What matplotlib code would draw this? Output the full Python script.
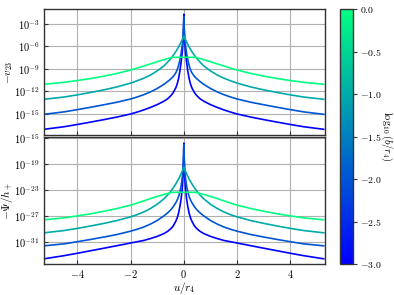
import numpy as np
import matplotlib.pyplot as plt
import matplotlib as mpl

plt.rcParams['mathtext.fontset'] = 'cm'
plt.rcParams['font.family'] = 'serif'
plt.rcParams['font.serif'] = ['DejaVu Serif']

# log10(b/r4) of each curve
log_b = [-3.0, -2.0, -1.0, 0.0]

# u/r4 sample points (u >= 0, curves are symmetric in u)
u_half = np.array([0, 0.01, 0.03, 0.06, 0.1, 0.15, 0.2, 0.25, 0.3, 0.4, 0.45, 0.5, 0.6,
                   0.75, 1.0, 1.25, 1.5, 1.75, 2.0, 2.5, 3.0, 3.5, 4.0, 4.5, 5.25])

# top panel: log10(-v23)
v23_b3 = [-1.7, -3.5, -5.3, -6.8, -8.0, -9.3, -10.3, -11.0, -11.5, -12.15, -12.4, -12.6, -12.95,
          -13.3, -13.75, -14.12, -14.45, -14.74, -15.0, -15.4, -15.75, -16.08, -16.4, -16.7, -17.04]
v23_b2 = [-2.0, -3.2, -4.6, -5.8, -6.85, -7.8, -8.55, -9.1, -9.5, -10.0, -10.18, -10.35, -10.65,
          -11.05, -11.6, -12.05, -12.42, -12.73, -13.0, -13.42, -13.77, -14.1, -14.42, -14.72, -15.04]
v23_b1 = [-4.6, -4.68, -4.85, -5.08, -5.38, -5.73, -6.07, -6.38, -6.67, -7.2, -7.43, -7.65, -8.05,
          -8.6, -9.25, -9.8, -10.22, -10.57, -10.88, -11.38, -11.78, -12.13, -12.45, -12.74, -13.04]
v23_b0 = [-7.44, -7.44, -7.44, -7.44, -7.44, -7.44, -7.44, -7.44, -7.44, -7.44, -7.45, -7.5, -7.6,
          -7.76, -8.03, -8.32, -8.6, -8.88, -9.14, -9.58, -9.95, -10.27, -10.54, -10.78, -11.04]

# bottom panel: log10(-Psi/h+)
psi_b3 = [-15.8, -18.0, -20.8, -22.8, -24.3, -25.6, -26.6, -27.3, -27.8, -28.55, -28.8, -29.0, -29.35,
          -29.72, -30.15, -30.48, -30.77, -30.97, -31.17, -31.57, -31.97, -32.36, -32.75, -33.12, -33.6]
psi_b2 = [-16.0, -17.6, -19.6, -21.1, -22.3, -23.35, -24.05, -24.55, -24.95, -25.6, -25.85, -26.1, -26.5,
          -27.0, -27.7, -28.25, -28.7, -29.05, -29.35, -29.85, -30.25, -30.62, -30.97, -31.3, -31.6]
psi_b1 = [-19.5, -19.6, -19.8, -20.1, -20.48, -20.92, -21.33, -21.7, -22.05, -22.68, -22.97, -23.25, -23.75,
          -24.38, -25.2, -25.85, -26.38, -26.8, -27.15, -27.7, -28.15, -28.55, -28.92, -29.25, -29.6]
psi_b0 = [-23.36, -23.36, -23.36, -23.36, -23.36, -23.36, -23.36, -23.36, -23.36, -23.36, -23.38, -23.42, -23.53,
          -23.7, -24.0, -24.32, -24.68, -25.02, -25.35, -25.85, -26.28, -26.67, -27.0, -27.3, -27.6]

top_series = [v23_b3, v23_b2, v23_b1, v23_b0]
bot_series = [psi_b3, psi_b2, psi_b1, psi_b0]

top_ticks = [-3, -6, -9, -12, -15]
bot_ticks = [-15, -19, -23, -27, -31]
x_ticks = [-4, -2, 0, 2, 4]
cb_ticks = [0.0, -0.5, -1.0, -1.5, -2.0, -2.5, -3.0]


def mirror(vals):
    vals = np.asarray(vals)
    return np.concatenate([vals[::-1], vals[1:]])


u = np.concatenate([-u_half[::-1], u_half[1:]])

cmap = plt.get_cmap('winter')
norm = mpl.colors.Normalize(vmin=-3, vmax=0)

fig = plt.figure(figsize=(3.94, 2.95), dpi=100)
ax1 = fig.add_axes([0.1117, 0.5424, 0.7132, 0.4271])
ax2 = fig.add_axes([0.1117, 0.1051, 0.7132, 0.4305])
cax = fig.add_axes([0.863, 0.105, 0.034, 0.864])

for lb, s in zip(log_b, top_series):
    ax1.plot(u, 10.0 ** mirror(s), color=cmap(norm(lb)), lw=1.2)
for lb, s in zip(log_b, bot_series):
    ax2.plot(u, 10.0 ** mirror(s), color=cmap(norm(lb)), lw=1.2)

ax1.set_yscale('log')
ax2.set_yscale('log')
ax1.set_ylim(10 ** -17.8, 10 ** -1.0)
ax2.set_ylim(10 ** -34.4, 10 ** -14.85)

for ax, ticks in [(ax1, top_ticks), (ax2, bot_ticks)]:
    ax.set_xlim(-5.25, 5.3)
    ax.set_yticks([10.0 ** t for t in ticks])
    ax.set_yticklabels([r'$10^{%d}$' % t for t in ticks], fontsize=7.5)
    ax.yaxis.set_minor_locator(mpl.ticker.NullLocator())
    ax.set_xticks(x_ticks)
    ax.grid(True, color='#b0b0b0', lw=0.8)
    ax.tick_params(direction='in', length=3, color='#333333', width=0.8, pad=3)
    for sp in ax.spines.values():
        sp.set_color('#333333')
        sp.set_linewidth(1.0)

ax1.set_xticklabels([])
ax2.set_xticklabels([r'$%d$' % t for t in x_ticks], fontsize=7.5)

ax1.set_ylabel(r'$-v_{23}$', fontsize=8)
ax2.set_ylabel(r'$-\Psi/h_+$', fontsize=8)
ax1.yaxis.set_label_coords(-0.105, 0.5)
ax2.yaxis.set_label_coords(-0.105, 0.5)
ax2.set_xlabel(r'$u/r_4$', fontsize=8)
ax2.xaxis.set_label_coords(0.5, -0.125)

sm = mpl.cm.ScalarMappable(norm=norm, cmap=cmap)
cb = fig.colorbar(sm, cax=cax)
cb.set_ticks(cb_ticks)
cb.set_ticklabels([r'$%.1f$' % t for t in cb_ticks])
cb.ax.tick_params(labelsize=7, length=3, width=0.8, color='#333333', pad=1.5)
cb.outline.set_edgecolor('#333333')
cb.outline.set_linewidth(1.0)
cb.ax.set_ylabel(r'$\log_{10}(b/r_4)$', rotation=270, fontsize=7.5, va='center', ha='center')
cb.ax.yaxis.set_label_coords(3.45, 0.5)

fig.savefig('out.png', dpi=100)
